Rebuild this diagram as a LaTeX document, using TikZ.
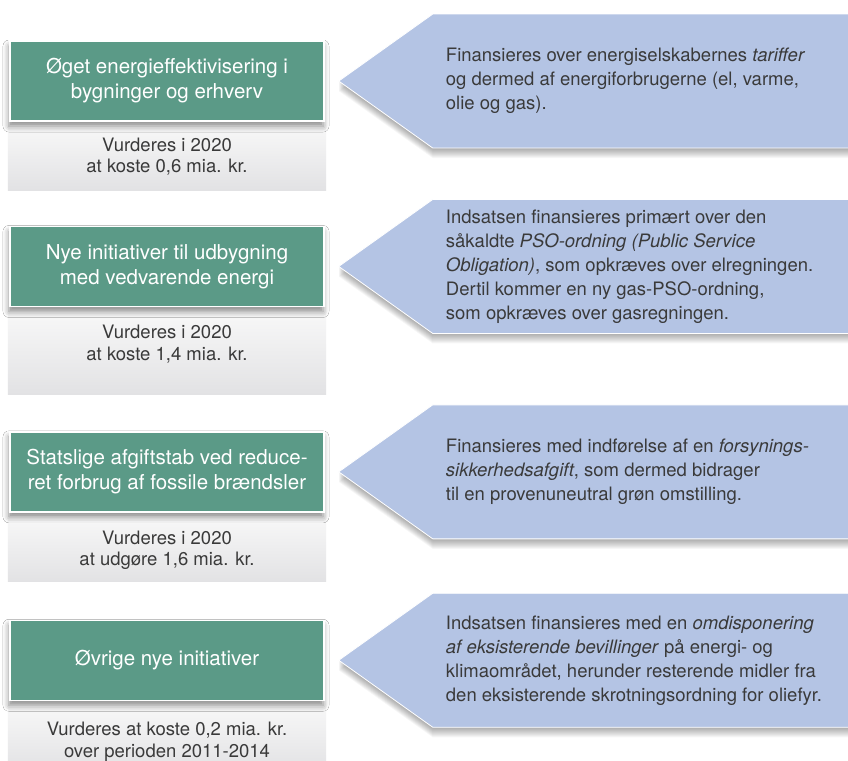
\documentclass[tikz,border=0pt]{standalone}
\usepackage{fontspec}
\setmainfont{TeX Gyre Heros}
\usetikzlibrary{positioning,calc,shadows.blur}
\definecolor{gGreen}{RGB}{91,154,135}
\definecolor{kBlue}{RGB}{180,196,228}
\definecolor{tGray}{RGB}{58,58,58}
\definecolor{nTop}{RGB}{249,249,249}
\definecolor{nBot}{RGB}{226,226,228}
\tikzset{
  tiltag/.style={rectangle, draw=white, line width=1.5bp, fill=gGreen, text=white,
                 minimum width=314bp, minimum height=80bp, align=center, inner sep=0pt,
                 font=\fontsize{20.5bp}{25bp}\selectfont,
                 blur shadow={shadow xshift=-1bp, shadow yshift=-5bp,
                              shadow blur radius=6bp, shadow opacity=45}},
  note/.style={rectangle, top color=nTop, bottom color=nBot, minimum width=318bp,
               inner sep=0pt},
  notetxt/.style={align=center, inner sep=0pt, text=tGray,
                  font=\fontsize{18.5bp}{21.5bp}\selectfont},
  kilde/.style={fill=kBlue, draw=white, line width=0.8bp, line join=miter},
  kshade/.style={fill=black, opacity=0.035},
  ktxt/.style={anchor=west, align=left, inner sep=0pt, text=tGray,
               font=\fontsize{18.5bp}{24bp}\selectfont},
}
\newcommand{\Kilde}[3]{% {tiltag}{name}{text}
  \coordinate (#2tip) at ($(#1.east)+(14,0)$);
  \foreach \s in {1,...,10}
    \fill[kshade] ($(#2tip)+(0,\s)$) -- ++(94,-67) -- ++(416,0)
       -- ++(0,134) -- ++(-416,0) -- cycle;
  \path[kilde] (#2tip) -- ++(94,-67) -- ++(416,0)
       -- ++(0,134) -- ++(-416,0) -- cycle;
  \node[ktxt] (#2) at ($(#2tip)+(107,0)$) {#3};}

\begin{document}
\begin{tikzpicture}[x=1bp, y=-1bp]
  \useasboundingbox[fill=white] (0,0) rectangle (848,761);

  % ===== grey notes (left column) =====================================
  \node[note, minimum height=68bp] (n1) at (167,156) {};
  \node[note, below=117bp of n1, minimum height=87bp] (n2) {};
  \node[note, below=118bp of n2, minimum height=69bp] (n3) {};
  \node[note, below=119bp of n3, minimum height=70bp] (n4) {};

  % ===== green boxes sitting on the notes =============================
  \node[tiltag, above=0pt of n1] (g1) {Øget energieffektivisering i\\bygninger og erhverv};
  \node[tiltag, above=0pt of n2] (g2) {Nye initiativer til udbygning\\med vedvarende energi};
  \node[tiltag, above=0pt of n3] (g3) {Statslige afgiftstab ved reduce-\\ret forbrug af fossile brændsler};
  \node[tiltag, above=0pt of n4] (g4) {Øvrige nye initiativer};

  \node[notetxt, below=16bp of g1] (v1) {Vurderes i 2020\\at koste 0,6 mia. kr.};
  \node[notetxt, below=18bp of g2] (v2) {Vurderes i 2020\\at koste 1,4 mia. kr.};
  \node[notetxt, below=18bp of g3] (v3) {Vurderes i 2020\\at udgøre 1,6 mia. kr.};
  \node[notetxt, below=21bp of g4] (v4) {Vurderes at koste 0,2 mia. kr.\\over perioden 2011-2014};

  % ===== financing arrows (right column) ==============================
  \Kilde{g1}{k1}{Finansieres over energiselskabernes \textit{tariffer}\\
    og dermed af energiforbrugerne (el, varme,\\olie og gas).}
  \Kilde{g2}{k2}{Indsatsen finansieres primært over den\\
    såkaldte \textit{PSO-ordning (Public Service}\\
    \textit{Obligation)}, som opkræves over elregningen.\\
    Dertil kommer en ny gas-PSO-ordning,\\som opkræves over gasregningen.}
  \Kilde{g3}{k3}{Finansieres med indførelse af en \textit{forsynings-}\\
    \textit{sikkerhedsafgift}, som dermed bidrager\\
    til en provenuneutral grøn omstilling.}
  \Kilde{g4}{k4}{Indsatsen finansieres med en \textit{omdisponering}\\
    \textit{af eksisterende bevillinger} på energi- og\\
    klimaområdet, herunder resterende midler fra\\
    den eksisterende skrotningsordning for oliefyr.}

\end{tikzpicture}
\end{document}
